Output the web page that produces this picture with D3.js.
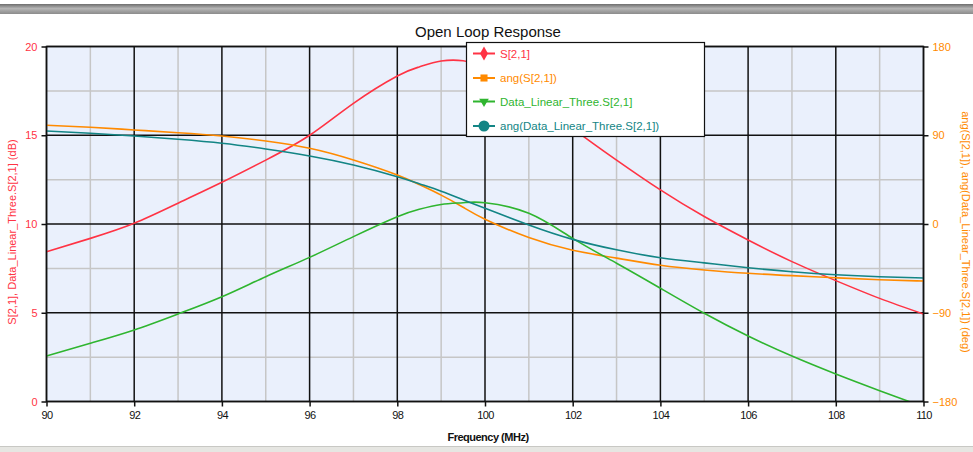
<!DOCTYPE html>
<html>
<head>
<meta charset="utf-8">
<script src="https://cdn.jsdelivr.net/npm/d3@7"></script>
<style>
  html, body { margin: 0; padding: 0; background: #fff; }
  svg { display: block; }
  text { font-family: "Liberation Sans", Arial, sans-serif; }
</style>
</head>
<body>
<script>
// ---- data ----
const freq = [90, 91, 92, 93, 94, 95, 96, 97, 98, 98.5, 99, 99.5, 100, 101, 102, 103, 104, 105, 106, 107, 108, 109, 110];
const s21dB = [8.44, 9.19, 10.04, 11.17, 12.35, 13.6, 15.0, 16.8, 18.34, 18.85, 19.18, 19.2, 18.77, 17.27, 15.39, 13.6, 11.92, 10.42, 9.1, 7.88, 6.81, 5.81, 4.93];
const s21Ang = [100.1, 98.1, 95.4, 92.6, 89.3, 84.2, 76.8, 64.9, 49.7, 40.0, 29.3, 17.0, 4.9, -13.8, -26.6, -34.6, -41.9, -46.6, -50.0, -52.4, -54.5, -56.5, -57.8];
const dataLinDB = [2.56, 3.28, 4.03, 4.93, 5.9, 7.03, 8.12, 9.29, 10.41, 10.83, 11.1, 11.2, 11.2, 10.6, 9.19, 7.79, 6.38, 4.97, 3.69, 2.56, 1.55, 0.61, -0.3];
const dataLinAng = [94.3, 92.0, 89.3, 85.9, 81.9, 76.1, 69.0, 59.8, 48.0, 40.9, 33.3, 24.6, 15.9, -1.0, -15.6, -26.2, -34.2, -39.4, -44.3, -48.4, -51.5, -53.5, -54.7];

const xTicks = [90, 92, 94, 96, 98, 100, 102, 104, 106, 108, 110];
const xMinor = [91, 93, 95, 97, 99, 101, 103, 105, 107, 109];
const yLeftTicks = [0, 5, 10, 15, 20];
const yLeftMinor = [2.5, 7.5, 12.5, 17.5];
const yRightTicks = [-180, -90, 0, 90, 180];

const title = "Open Loop Response";
const xTitle = "Frequency (MHz)";
const yLeftTitle = "S[2,1], Data_Linear_Three.S[2,1] (dB)";
const yRightTitle = "ang(S[2,1]), ang(Data_Linear_Three.S[2,1]) (deg)";
const seriesNames = ["S[2,1]", "ang(S[2,1])", "Data_Linear_Three.S[2,1]", "ang(Data_Linear_Three.S[2,1])"];

// ---- drawing ----
const W = 973, H = 452;
const L = 46.5, R = 923.5, T = 46.5, B = 401.5;
const colRed = "#ff3344", colOrange = "#ff8a00", colGreen = "#2fb52f", colTeal = "#138585";

const svg = d3.select("body").append("svg").attr("width", W).attr("height", H);

// window frame bits
const g0 = svg.append("defs").append("linearGradient").attr("id", "topbar").attr("x1", 0).attr("x2", 0).attr("y1", 0).attr("y2", 1);
g0.append("stop").attr("offset", "0%").attr("stop-color", "#6e6e6e");
g0.append("stop").attr("offset", "45%").attr("stop-color", "#b4b4b4");
g0.append("stop").attr("offset", "100%").attr("stop-color", "#8c8c8c");
svg.append("rect").attr("x", 0).attr("y", 4).attr("width", W).attr("height", 10).attr("fill", "url(#topbar)");
svg.append("rect").attr("x", 0).attr("y", 446).attr("width", W).attr("height", 6).attr("fill", "#e6e6e2");
svg.append("line").attr("x1", 0).attr("x2", W).attr("y1", 446.5).attr("y2", 446.5).attr("stroke", "#c8c8c4");

const x = d3.scaleLinear().domain([90, 110]).range([L, R]);
const yL = d3.scaleLinear().domain([0, 20]).range([B, T]);
const yR = d3.scaleLinear().domain([-180, 180]).range([B, T]);

// plot background
svg.append("rect").attr("x", L).attr("y", T).attr("width", R - L).attr("height", B - T).attr("fill", "#eaf0fc");

// minor grid
const grid = svg.append("g");
grid.selectAll(".vm").data(xMinor).join("line")
  .attr("x1", d => x(d)).attr("x2", d => x(d)).attr("y1", T).attr("y2", B)
  .attr("stroke", "#c6c6c6").attr("stroke-width", 1.5);
grid.selectAll(".hm").data(yLeftMinor).join("line")
  .attr("x1", L).attr("x2", R).attr("y1", d => yL(d)).attr("y2", d => yL(d))
  .attr("stroke", "#c6c6c6").attr("stroke-width", 1.5);
// major grid
grid.selectAll(".vM").data(xTicks).join("line")
  .attr("x1", d => x(d)).attr("x2", d => x(d)).attr("y1", T).attr("y2", B)
  .attr("stroke", "#111").attr("stroke-width", 1.5);
grid.selectAll(".hM").data(yLeftTicks).join("line")
  .attr("x1", L).attr("x2", R).attr("y1", d => yL(d)).attr("y2", d => yL(d))
  .attr("stroke", "#111").attr("stroke-width", 1.5);

// axes
const fontSize = 11;
const axB = svg.append("g").attr("transform", `translate(0,${B})`)
  .call(d3.axisBottom(x).tickValues(xTicks).tickSize(5).tickPadding(5).tickFormat(d3.format("d")));
const axL = svg.append("g").attr("transform", `translate(${L},0)`)
  .call(d3.axisLeft(yL).tickValues(yLeftTicks).tickSize(5).tickPadding(4).tickFormat(d3.format("d")));
const axR = svg.append("g").attr("transform", `translate(${R},0)`)
  .call(d3.axisRight(yR).tickValues(yRightTicks).tickSize(5).tickPadding(4).tickFormat(d3.format("d")));
[axB, axL, axR].forEach(a => {
  a.select(".domain").remove();
  a.selectAll(".tick line").attr("stroke", "#111").attr("stroke-width", 1.5);
  a.selectAll("text").attr("font-size", fontSize).attr("font-family", "'Liberation Sans', Arial, sans-serif");
});
axB.selectAll("text").attr("fill", "#111").attr("letter-spacing", "-0.6px");
axL.selectAll("text").attr("fill", colRed);
axR.selectAll("text").attr("fill", colOrange);

// series
svg.append("clipPath").attr("id", "plotclip").append("rect")
  .attr("x", L).attr("y", T).attr("width", R - L).attr("height", B - T);
const plot = svg.append("g").attr("clip-path", "url(#plotclip)");
const mk = (yScale, vals) => d3.line().curve(d3.curveNatural)
  .x((d, i) => x(freq[i])).y((d, i) => yScale(vals[i]))(vals);
const series = [
  { vals: s21dB, scale: yL, color: colRed },
  { vals: s21Ang, scale: yR, color: colOrange },
  { vals: dataLinDB, scale: yL, color: colGreen },
  { vals: dataLinAng, scale: yR, color: colTeal }
];
plot.selectAll("path.s").data(series).join("path")
  .attr("d", s => mk(s.scale, s.vals))
  .attr("fill", "none").attr("stroke", s => s.color).attr("stroke-width", 1.6)
  .attr("stroke-linejoin", "round");

// plot frame
svg.append("rect").attr("x", L).attr("y", T).attr("width", R - L).attr("height", B - T)
  .attr("fill", "none").attr("stroke", "#111").attr("stroke-width", 1.5);

// titles
svg.append("text").attr("x", 488).attr("y", 37).attr("text-anchor", "middle")
  .attr("font-size", 15).attr("fill", "#111").text(title);
svg.append("text").attr("x", 488).attr("y", 441).attr("text-anchor", "middle")
  .attr("font-size", 11).attr("font-weight", "bold").attr("letter-spacing", "-0.5px").attr("fill", "#111").text(xTitle);
svg.append("text").attr("transform", `translate(16,232) rotate(-90)`).attr("text-anchor", "middle")
  .attr("font-size", 11).attr("fill", colRed).text(yLeftTitle);
svg.append("text").attr("transform", `translate(962,232) rotate(90)`).attr("text-anchor", "middle")
  .attr("font-size", 11).attr("fill", colOrange).text(yRightTitle);

// legend
const lg = svg.append("g");
lg.append("rect").attr("x", 466.5).attr("y", 42.5).attr("width", 238).attr("height", 94)
  .attr("fill", "#fff").attr("stroke", "#111").attr("stroke-width", 1.2);
const legendY = [53.5, 78, 101.5, 126];
const legColors = [colRed, colOrange, colGreen, colTeal];
const symTypes = [d3.symbolDiamond, d3.symbolSquare, d3.symbolTriangle, d3.symbolCircle];
const symSizes = [55, 50, 40, 95];
seriesNames.forEach((name, i) => {
  const yy = legendY[i];
  lg.append("line").attr("x1", 473).attr("x2", 495).attr("y1", yy).attr("y2", yy)
    .attr("stroke", legColors[i]).attr("stroke-width", 2);
  lg.append("path").attr("d", d3.symbol().type(symTypes[i]).size(symSizes[i])())
    .attr("transform", `translate(484,${yy}) ${i === 2 ? "rotate(180)" : ""}`)
    .attr("fill", legColors[i]);
  lg.append("text").attr("x", 500).attr("y", yy + 4).attr("font-size", 11.5)
    .attr("fill", legColors[i]).text(name);
});
</script>
</body>
</html>
